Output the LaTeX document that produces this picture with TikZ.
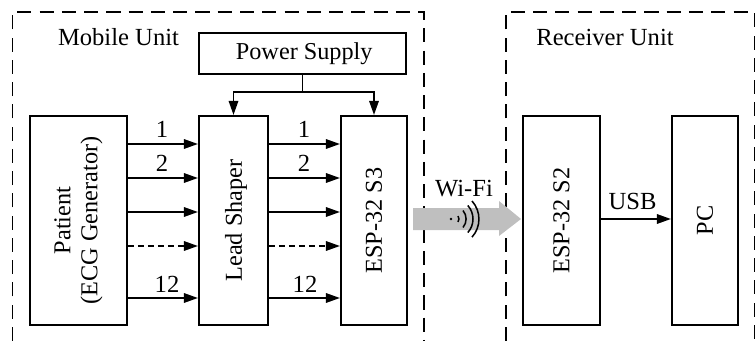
\documentclass[tikz,border=0pt]{standalone}
\usepackage{fontspec}
\setmainfont{Liberation Serif}
\usetikzlibrary{arrows.meta}

\begin{document}
\begin{tikzpicture}[
			x=0.03cm, y=-0.03cm,
			box/.style={draw, line width=1.7pt, fill=white, align=center, inner sep=0pt, font=\fontsize{20.7}{23}\selectfont},
			vbox/.style={box, rotate=90},
			frame/.style={draw, line width=1.7pt, dash pattern=on 12pt off 7pt},
			title/.style={font=\fontsize{21}{23}\selectfont, inner sep=0pt},
			sig/.style={draw, line width=1.7pt, -{Triangle[length=12pt, width=8pt]}},
			num/.style={font=\fontsize{21}{23}\selectfont, inner sep=0pt, anchor=base},
			wave/.style={draw, line width=1.3pt}
			]
			\useasboundingbox (0,0) rectangle (755,341);
			
			% Dashed frames
			\draw[frame] (12.5,341) -- (12.5,12) -- (424,12) -- (424,341);
			\draw[frame] (506,341) -- (506,12) -- (754.5,12) -- (754.5,341);
			\node[title] (mobile) at (118.5,37) {Mobile Unit};
			\node[title] (receiver) at (605,37) {Receiver Unit};
			
			% Boxes
			\node[box, minimum width=6.21cm, minimum height=1.23cm] (power) at (302.5,53.5) {\hspace*{3pt}Power Supply};
			\node[vbox, minimum width=6.27cm, minimum height=2.91cm] (patient) at (78.5,220.5) {Patient\\(ECG Generator)};
			\node[vbox, minimum width=6.27cm, minimum height=2.07cm, text depth=0pt] (lead) at (233.5,220.5) {Lead Shaper};
			\node[vbox, minimum width=6.27cm, minimum height=1.98cm] (s3) at (374,220.5) {ESP-32 S3};
			\node[vbox, minimum width=6.27cm, minimum height=2.31cm] (s2) at (561.5,220.5) {ESP-32 S2};
			\node[vbox, minimum width=6.27cm, minimum height=1.98cm] (pc) at (705,220.5) {PC};
			
			% Power lines
			\coordinate (split) at (302.5,92);
			\draw[line width=1.7pt] (power.south) -- (split);
			\draw[sig] (split) -| (lead.east);
			\draw[sig] (split) -| (s3.east);
			
			% Lead lines
			\foreach \y in {144,178,212,298} {
				\draw[sig] (patient.south |- 0,\y) -- (lead.north |- 0,\y);
				\draw[sig] (lead.south |- 0,\y) -- (s3.north |- 0,\y);
			}
			\draw[sig, dash pattern=on 5pt off 3.5pt] (patient.south |- 0,246) -- (lead.north |- 0,246);
			\draw[sig, dash pattern=on 5pt off 3.5pt] (lead.south |- 0,246) -- (s3.north |- 0,246);
			\foreach \x/\z in {162/167,304/305} {
				\node[num] at (\x,138) {1};
				\node[num] at (\x,171.5) {2};
				\node[num] at (\z,292) {12};
			}
			
			% Wi-Fi link
			\fill[black!25] (413,208) -- (499,208) -- (499,201) -- (521,219) -- (499,236) -- (499,230) -- (413,230) -- cycle;
			\node[title] (wifi) at (464,189) {Wi-Fi};
			\fill (451,219) circle (1.3);
			\draw[wave] (458,216) arc (-35:35:5.2);
			\draw[wave] (463,210.5) arc (-40:40:13.2);
			\draw[wave] (467.8,205.5) arc (-42:42:20.2);
			\draw[wave] (472,201) arc (-42:42:27);
			
			% USB
			\draw[sig] (s2.south |- 0,219) -- (pc.north |- 0,219) node[num, pos=.45, above=7pt] (usb) {USB};
			
		\end{tikzpicture}
\end{document}
